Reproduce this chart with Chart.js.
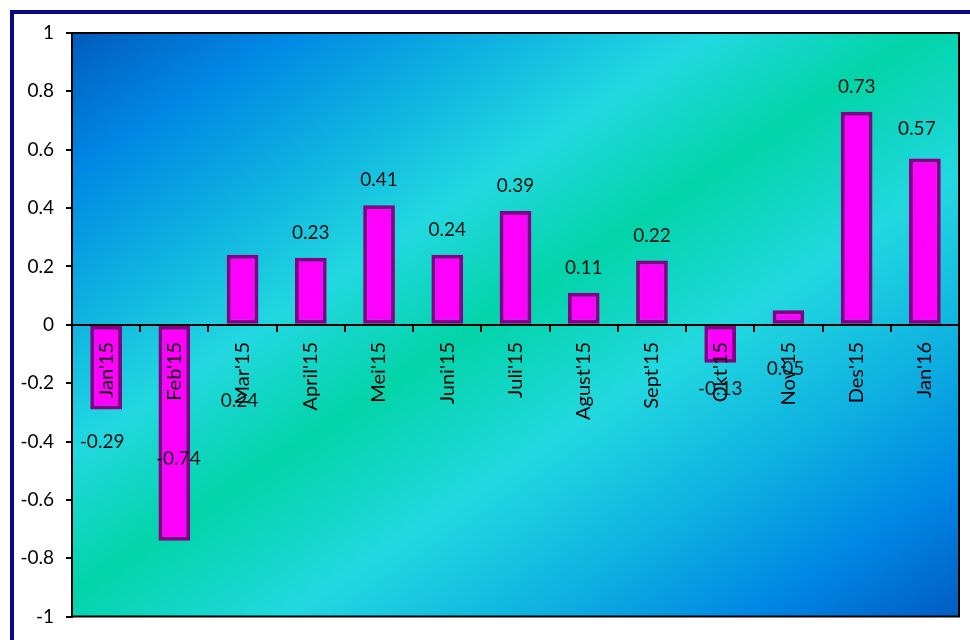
<!DOCTYPE html>
<html>
<head>
<meta charset="utf-8">
<script src="https://cdn.jsdelivr.net/npm/chart.js@4.4.1/dist/chart.umd.min.js"></script>
<style>
	html, body { margin: 0; padding: 0; background: #fff; }
	canvas { display: block; }
</style>
</head>
<body>
<canvas id="chart" width="970" height="640"></canvas>
<script>
//  Monthly change, Jan'15 - Jan'16
const months = [`Jan'15`, `Feb'15`, `Mar'15`, `April'15`, `Mei'15`, `Juni'15`, `Juli'15`, `Agust'15`, `Sept'15`, `Okt'15`, `Nov'15`, `Des'15`, `Jan'16`]
const changes = [-0.29, -0.74, 0.24, 0.23, 0.41, 0.24, 0.39, 0.11, 0.22, -0.13, 0.05, 0.73, 0.57]
const yTickValues = [-1, -0.8, -0.6, -0.4, -0.2, 0, 0.2, 0.4, 0.6, 0.8, 1]

Chart.defaults.font.family = `Lato`

/**
 * Page frame + diagonal gradient behind the plot, outline round it.
 */
const plotBackdrop = {
	id: `plotBackdrop`,
	beforeDraw(chart, args, opts) {
		const { ctx, chartArea: { left, top, right, bottom } } = chart
		const w = right - left
		const h = bottom - top
		const cx = left + w / 2
		const cy = top + h / 2
		//  isolines run parallel to the anti-diagonal of the plot
		const k = w * h / (w * w + h * h)
		const grad = ctx.createLinearGradient(cx - h * k, cy - w * k, cx + h * k, cy + w * k)
		opts.stops.forEach(([at, color]) => grad.addColorStop(at, color))
		ctx.save()
		ctx.fillStyle = `#fff`
		ctx.fillRect(0, 0, chart.width, chart.height)
		ctx.fillStyle = opts.frameColor
		ctx.fillRect(10, 10, 4, chart.height - 10)
		ctx.fillRect(10, 10, chart.width - 10, 4)
		ctx.fillStyle = grad
		ctx.fillRect(left, top, w, h)
		ctx.restore()
	},
	afterDraw(chart) {
		const { ctx, chartArea: { left, top, right, bottom } } = chart
		ctx.save()
		ctx.strokeStyle = `#000`
		ctx.lineWidth = 2
		ctx.beginPath()
		ctx.moveTo(left, top)
		ctx.lineTo(right, top)
		ctx.lineTo(right, bottom)
		ctx.lineTo(left, bottom)
		ctx.stroke()
		ctx.restore()
	}
}

/**
 * Value labels, some of them left where Excel pushed them.
 */
const valueLabels = {
	id: `valueLabels`,
	afterDraw(chart, args, opts) {
		const { ctx } = chart
		const yScale = chart.scales.y
		const meta = chart.getDatasetMeta(0)
		ctx.save()
		ctx.font = opts.font
		ctx.fillStyle = opts.color
		ctx.textAlign = `center`
		ctx.textBaseline = `middle`
		meta.data.forEach((bar, i) => {
			const moved = opts.moved[i]
			const x = bar.x + (moved ? moved.dx : 0)
			const y = moved ? yScale.getPixelForValue(moved.at) : Math.min(bar.y, bar.base) - opts.gap
			ctx.fillText(changes[i].toFixed(2), x, y)
		})
		ctx.restore()
	}
}

new Chart(document.getElementById(`chart`), {
	type: `bar`,
	data: {
		labels: months,
		datasets: [{
			data: changes,
			backgroundColor: `#ff00ff`,
			borderColor: `#860086`,
			borderWidth: 4,
			borderSkipped: false,
			categoryPercentage: 1,
			barPercentage: 0.465
		}]
	},
	plugins: [plotBackdrop, valueLabels],
	options: {
		responsive: false,
		animation: false,
		devicePixelRatio: 1,
		layout: { padding: { top: 33, right: 11, bottom: 18, left: 0 } },
		plugins: {
			legend: { display: false },
			tooltip: { enabled: false },
			plotBackdrop: {
				frameColor: `#0a0a86`,
				stops: [
					[0, `#005cbc`],
					[0.12, `#0088e4`],
					[0.25, `#10b4e0`],
					[0.36, `#22d8e0`],
					[0.48, `#02d4a8`],
					[0.62, `#22d8e0`],
					[0.75, `#10b4e0`],
					[0.88, `#0088e4`],
					[1, `#005cc4`]
				]
			},
			valueLabels: {
				font: `19px Lato`,
				color: `#111`,
				gap: 25,
				moved: {
					0: { at: -0.40, dx: -4 },
					1: { at: -0.46, dx: 4 },
					2: { at: -0.26, dx: -3 },
					9: { at: -0.22, dx: 0 },
					10: { at: -0.15, dx: -3 },
					12: { at: 0.67, dx: -8 }
				}
			}
		},
		scales: {
			x: {
				type: `category`,
				position: { y: 0 },
				offset: true,
				grid: { offset: true, drawOnChartArea: false, tickLength: 6, color: `#000`, lineWidth: 2, z: 1 },
				border: { color: `#000`, width: 2, z: 1 },
				ticks: { minRotation: 90, maxRotation: 90, autoSkip: false, padding: 11, color: `#000`, font: { size: 20 }, z: 1 }
			},
			y: {
				min: -1,
				max: 1,
				afterBuildTicks: scale => { scale.ticks = yTickValues.map(value => ({ value })) },
				afterFit: scale => { scale.width = 72 },
				grid: { drawOnChartArea: false, tickLength: 6, color: `#000`, lineWidth: 2 },
				border: { color: `#000`, width: 2 },
				ticks: {
					padding: 12,
					color: `#000`,
					font: { size: 19 },
					callback: value => `${Number(value.toFixed(1))}`
				}
			}
		}
	}
})
</script>
</body>
</html>
